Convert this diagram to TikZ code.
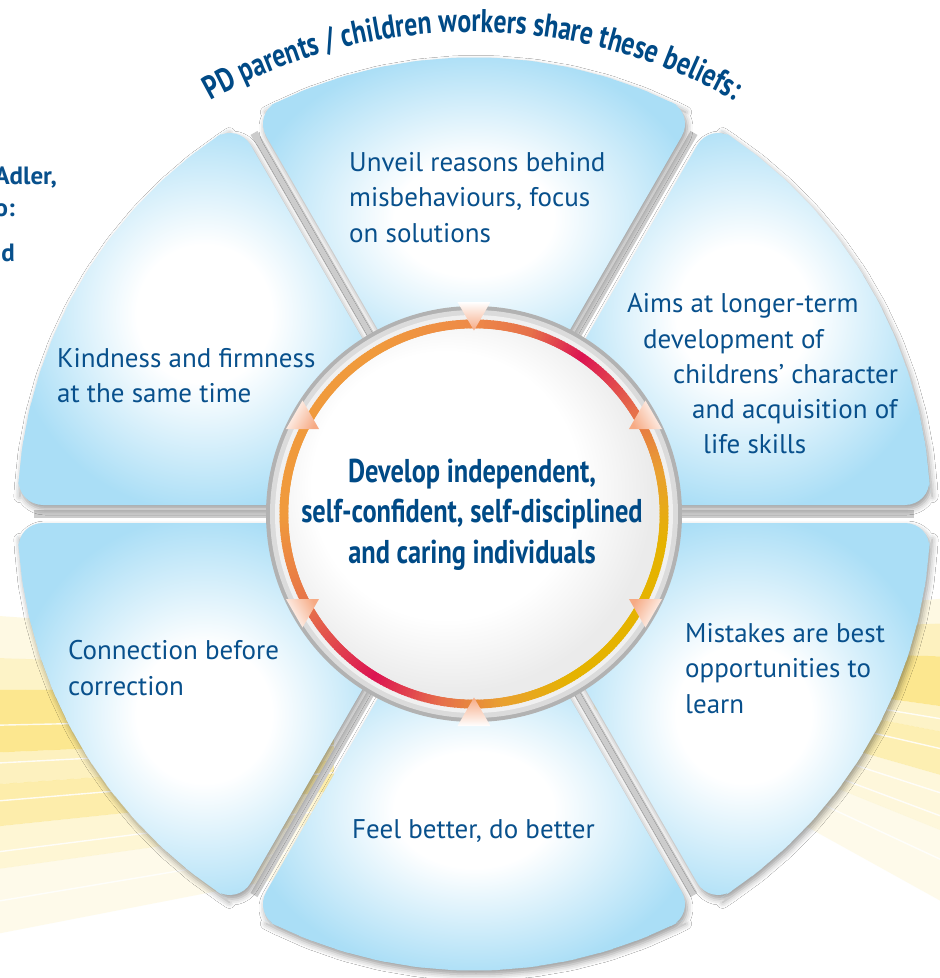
\documentclass[tikz,border=0pt]{standalone}
\usepackage{fontspec}
\setmainfont{PT Sans}
\newfontfamily\condfont[FakeStretch=0.8]{PT Sans}
\newfontfamily\titlefont[FakeStretch=0.78]{PT Sans}
\usetikzlibrary{calc,decorations.text,shadows.blur}

\definecolor{txtblue}{RGB}{8,80,140}
\definecolor{txtdark}{RGB}{0,74,134}
\definecolor{petalblue}{RGB}{170,222,246}
\definecolor{rayY}{RGB}{252,226,115}
\definecolor{peach}{RGB}{246,170,132}
\definecolor{rO}{HTML}{F09A3C}
\definecolor{rR}{HTML}{DC1452}
\definecolor{rRO}{HTML}{E6704A}
\definecolor{rG}{HTML}{E5B300}
\definecolor{rOY}{HTML}{E9A030}
\definecolor{rTop}{HTML}{EE8A48}

\pgfdeclareradialshading{petalshade}{\pgfpoint{0bp}{0bp}}{color(0bp)=(white); color(9bp)=(white); color(26bp)=(petalblue); color(50bp)=(petalblue)}
\pgfdeclareradialshading{discshade}{\pgfpoint{-6bp}{6bp}}{color(0bp)=(white); color(18bp)=(white); color(27bp)=(black!8); color(50bp)=(black!8)}

\newcommand\petalpath[1]{($(#1-30:150)+(#1+60:9)$) -- ($(#1-30:456.9)+(#1+60:9)$)
  \foreach \k in {1,...,11} { -- (#1-28.872+\k*4.812:457) }
  -- ($(#1+30:456.9)+(#1-60:9)$) -- ($(#1+30:150)+(#1-60:9)$) -- cycle}
\newcommand\titlefmt{\titlefont\bfseries\fontsize{33}{33}\selectfont\color{txtdark}}

\tikzset{
  ptext/.style={font=\fontsize{27}{27}\selectfont, text=txtblue, anchor=base west, inner sep=0pt},
  ctext/.style={font=\condfont\bfseries\fontsize{33}{33}\selectfont, text=txtdark, anchor=base, inner sep=0pt},
  ltext/.style={font=\bfseries\fontsize{25}{25}\selectfont, text=txtblue, anchor=base east, inner sep=0pt},
  gapline/.style={line width=8pt, black!20},
  petal/.style={shading=petalshade, rounded corners=26pt,
    blur shadow={shadow xshift=2pt, shadow yshift=-4pt, shadow blur radius=6pt, shadow opacity=40}},
  ringseg/.style={line width=9pt},
  rayline/.style={white, line width=1.4pt, opacity=0.85}
}

\begin{document}
\begin{tikzpicture}[x=1pt,y=1pt]
\useasboundingbox (-474,-464) rectangle (466,514);
\clip (-474,-464) rectangle (466,514);
\fill[white] (-474,-464) rectangle (466,514);

% yellow rays, left (converging far to the right)
\coordinate (PL) at (726,-186);
\begin{scope}
  \clip (-474,-464) rectangle (-140,0);
  \foreach \a/\b/\op in {176/178/0.2, 178/179.5/0.4, 179.5/182.5/0.8, 182.5/184/0.45, 184/186/0.6, 186/188/0.3, 188/191/0.15}
    \fill[rayY, opacity=\op] (PL) -- ($(PL)+(\a:1400)$) -- ($(PL)+(\b:1400)$) -- cycle;
  \foreach \a in {181.2,183,184.8,187.2,189.5}
    \draw[rayline] (PL) -- ($(PL)+(\a:1400)$);
\end{scope}
% yellow rays, right
\coordinate (PR) at (-4,-126);
\begin{scope}
  \clip (120,-464) rectangle (466,0);
  \foreach \a/\b/\op in {2/5/0.2, -2/2/0.45, -8/-2/0.8, -11/-8/0.4, -16/-11/0.55, -22/-16/0.25, -29/-22/0.15}
    \fill[rayY, opacity=\op] (PR) -- ($(PR)+(\a:1000)$) -- ($(PR)+(\b:1000)$) -- cycle;
  \foreach \a in {-9.5,-13,-18,-20.5,-25}
    \draw[rayline] (PR) -- ($(PR)+(\a:1000)$);
\end{scope}

% gaps
\foreach \a in {0,60,...,300}
  \draw[gapline] (\a:200) -- (\a:440);

% petals
\foreach \c in {90,150,210,270,330,30}
  \shade[petal] \petalpath{\c};

% central disc
\fill[black!30] (0,0) circle (208);
\fill[black!14] (0,0) circle (204);
\fill[black!6] (0,0) circle (199);
\foreach \aa/\ab/\ca/\cb in {-180/-150/rO/rRO, -150/-122/rRO/rR, -122/-100/rR/rRO, -100/-82/rRO/rOY, -82/-60/rOY/rG, -60/-10/rG/rG, -10/12/rG/rOY, 12/32/rOY/rRO, 32/55/rRO/rR, 55/72/rR/rRO, 72/90/rRO/rTop, 90/120/rTop/rO, 120/180/rO/rO} {
  \pgfmathtruncatemacro\n{\ab-\aa}
  \pgfmathtruncatemacro\nm{\n-1}
  \foreach \i in {0,...,\nm} {
    \pgfmathsetmacro\p{100*(1-\i/\n)}
    \draw[ringseg, color=\ca!\p!\cb] (\aa+\i:190) arc[start angle=\aa+\i, end angle=\aa+\i+1.4, radius=190];
  }
}
\shade[shading=discshade] (0,0) circle (185.5);

% triangles
\foreach \a/\s in {90/-1,30/1,-30/-1,-90/1,-150/-1,150/1} {
  \pgfmathsetmacro\sh{\a-90}
  \shade[top color=white, middle color=white, bottom color=peach, shading angle=\sh]
    ($(\a:198)+(-16.5,-14*\s)$) -- ($(\a:198)+(16.5,-14*\s)$) -- ($(\a:198)+(0,14.5*\s)$) -- cycle;
}

% petal texts
\node[ptext] (t1a) at (-125,342) {Unveil reasons behind};
\node[ptext] (t1b) at (-125,307) {misbehaviours, focus};
\node[ptext] (t1c) at (-125,272) {on solutions};

\node[ptext] (t2a) at (-417,147) {Kindness and firmness};
\node[ptext] (t2b) at (-417,112) {at the same time};

\node[ptext] (t3a) at (153,202) {Aims at longer-term};
\node[ptext] (t3b) at (169,166) {development of};
\node[ptext] (t3c) at (199,131) {childrens’ character};
\node[ptext] (t3d) at (218,96) {and acquisition of};
\node[ptext] (t3e) at (229,61) {life skills};

\node[ptext] (t4a) at (-406,-145) {Connection before};
\node[ptext] (t4b) at (-406,-181) {correction};

\node[ptext] (t5a) at (211,-128) {Mistakes are best};
\node[ptext] (t5b) at (211,-163) {opportunities to};
\node[ptext] (t5c) at (211,-199) {learn};

\node[ptext] (t6a) at (-122,-324) {Feel better, do better};

% centre text
\node[ctext] (c1) at (-2,32) {Develop independent,};
\node[ctext] (c2) at (-2,-8) {self-confident, self-disciplined};
\node[ctext] (c3) at (-2,-49) {and caring individuals};

% title along arc
\path[decorate, decoration={text along path, text align=center,
  text={|\titlefmt|PD parents / children workers share these beliefs:}}]
  ($(-2,-54)+(128:536)$) arc[start angle=128, end angle=52, radius=536];

% clipped left text
\node[ltext] (l1) at (-417,329) {Adler,};
\node[ltext] (l2) at (-459,297) {o:};
\node[ltext] (l3) at (-459,252) {d};
\end{tikzpicture}
\end{document}
